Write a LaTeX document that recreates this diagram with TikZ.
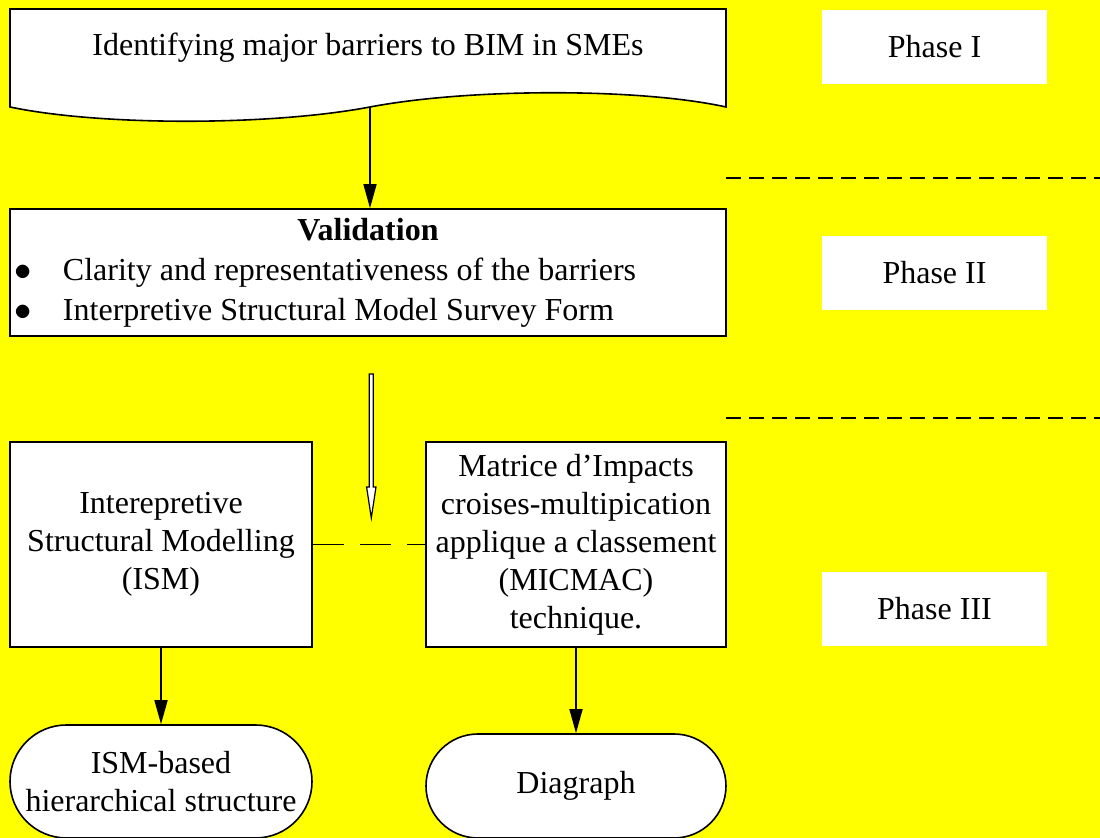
\documentclass[tikz,border=0pt]{standalone}
\usepackage{fontspec}
\setmainfont{Liberation Serif}
\usetikzlibrary{arrows.meta,shapes.misc}
\definecolor{bgyellow}{RGB}{255,255,0}
\tikzset{
  box/.style={draw,thick,fill=white,align=center,inner sep=0pt},
  term/.style={draw,thick,fill=white,align=center,rounded rectangle,inner sep=0pt},
  phasebox/.style={fill=white,minimum width=112.5pt,minimum height=37pt},
  arr/.style={thick,-{Triangle[length=12pt,width=6.5pt]}},
  sepline/.style={thick,dash pattern=on 7.5pt off 4pt},
}
\newcommand{\bulline}[1]{\makebox[358pt][l]{\hspace*{2pt}\makebox[24.5pt][l]{$\bullet$}#1}}
\begin{document}
\begin{tikzpicture}[x=0.5pt,y=-0.5pt,font=\fontsize{16}{19}\selectfont]
\fill[bgyellow] (0,0) rectangle (1100,838);
\useasboundingbox (0,0) rectangle (1100,838);

% document shape
\draw[thick,fill=white] (10,9) -- (726,9) -- (726,107)
  .. controls (640,88) and (470,88) .. (370,107)
  .. controls (270,126) and (100,126) .. (10,107) -- cycle;
\node (ident) at (368,48) {Identifying major barriers to BIM in SMEs};
\coordinate (identbot) at (370,107);

\node[box,minimum width=358pt,minimum height=63.5pt] (valid) at (368,272.5)
  {\textbf{Validation}\\[1pt]
   \bulline{Clarity and representativeness of the barriers}\\[1pt]
   \bulline{Interpretive Structural Model Survey Form}};

\draw[arr] (identbot) -- (identbot |- valid.north);

% hollow arrow
\coordinate (hol) at (371.3,374);
\draw[line width=0.6pt,fill=white] (hol) ++(-2,0) -- ++(4,0) -- ++(0,113) -- ++(2.7,0)
  -- ++(-4.7,31) -- ++(-4.7,-31) -- ++(2.7,0) -- cycle;

\node[box,minimum width=151pt,minimum height=102.5pt] (ism) at (161,544.5)
  {Interepretive\\Structural Modelling\\(ISM)};
\node[box,minimum width=150pt,minimum height=102.5pt] (micmac) at (576,544.5)
  {Matrice d’Impacts\\croises-multipication\\applique a classement\\(MICMAC)\\technique.};
\draw[thick,dash pattern=on 15.5pt off 8pt] (ism) -- (micmac);

\node[term,minimum width=151pt,minimum height=56.5pt] (ismh) at (161,781.5)
  {ISM-based\\hierarchical structure};
\node[term,minimum width=150pt,minimum height=52pt] (diag) at (576,786) {Diagraph};

\draw[arr] (ism) -- (ismh);
\draw[arr] (micmac) -- (diag);

% phases
\node[phasebox] (ph1) at (934.5,47) {Phase I};
\node[phasebox] (ph2) at (934.5,273) {Phase II};
\node[phasebox] (ph3) at (934.5,609) {Phase III};
\draw[sepline] (726,178) -- (1100,178);
\draw[sepline] (726,418) -- (1100,418);
\end{tikzpicture}
\end{document}
